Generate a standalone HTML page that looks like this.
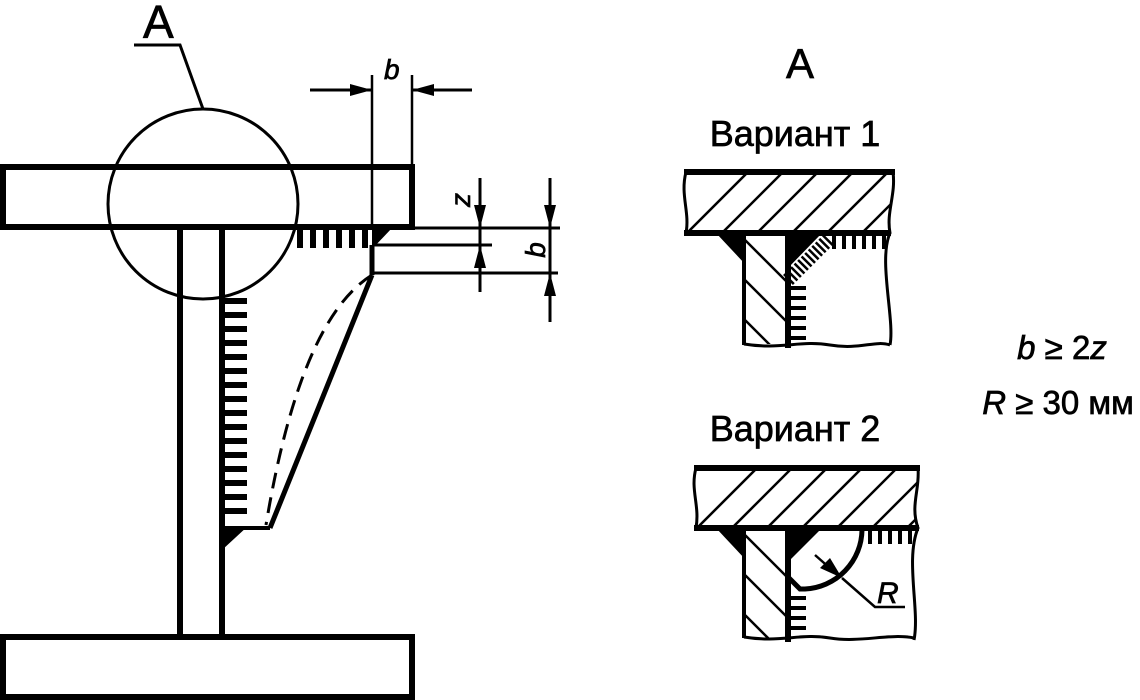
<!DOCTYPE html>
<html><head><meta charset="utf-8"><style>
html,body{margin:0;padding:0;background:#fff}
svg{display:block}
text{font-family:"Liberation Sans",sans-serif;fill:#000;stroke:#000;stroke-width:0.7}
</style></head><body>
<svg width="1140" height="700" viewBox="0 0 1140 700" xmlns="http://www.w3.org/2000/svg">
<defs>
<clipPath id="c1"><path d="M686,172 L893,172 C896,195 886,212 890,233 L686,233 C680,212 690,195 686,172 Z"/></clipPath>
<clipPath id="c2"><path d="M696,468 L918,468 C920,490 910,505 918,528 L696,528 C690,505 700,490 696,468 Z"/></clipPath>
<clipPath id="w1"><rect x="746" y="236" width="40" height="108"/></clipPath>
<clipPath id="w2"><rect x="746" y="531" width="40" height="108"/></clipPath>
</defs>
<g stroke="#000" fill="none">
<rect x="3" y="167" width="409" height="60" stroke-width="6"/>
<rect x="3" y="637" width="409" height="60" stroke-width="6"/>
<line x1="180" y1="230" x2="180" y2="637" stroke-width="6"/>
<line x1="222" y1="230" x2="222" y2="637" stroke-width="6"/>
<circle cx="203" cy="204" r="95" stroke-width="3"/>
<polyline points="203,109 180,45 134,45" stroke-width="3"/>
<line x1="372" y1="75" x2="372" y2="227" stroke-width="2.5"/>
<line x1="412" y1="75" x2="412" y2="167" stroke-width="2.5"/>
<line x1="310" y1="90" x2="372" y2="90" stroke-width="3"/>
<line x1="412" y1="90" x2="472" y2="90" stroke-width="3"/>
<line x1="372" y1="245" x2="372" y2="275" stroke-width="5"/>
<line x1="372" y1="275" x2="270" y2="528" stroke-width="5"/>
<line x1="222" y1="528" x2="270" y2="528" stroke-width="4"/>
<path d="M372,275 Q300,320 266,525" stroke-width="3" stroke-dasharray="16,9"/>
<line x1="374" y1="245" x2="492" y2="245" stroke-width="3"/>
<line x1="374" y1="273" x2="558" y2="273" stroke-width="3"/>
<line x1="412" y1="228" x2="560" y2="228" stroke-width="3"/>
<line x1="480" y1="178" x2="480" y2="292" stroke-width="3"/>
<line x1="550" y1="178" x2="550" y2="322" stroke-width="3"/>
</g>
<g fill="#000">
<polygon points="372,90 350,84 350,96"/>
<polygon points="412,90 434,84 434,96"/>
<polygon points="480,228 474,205 486,205"/>
<polygon points="480,245 474,268 486,268"/>
<polygon points="550,228 544,205 556,205"/>
<polygon points="550,273 544,296 556,296"/>
<polygon points="372,228 392,228 374,247 372,247"/>
<polygon points="222,526 248,526 222,550"/>
</g>
<g fill="#000">
<rect x="297" y="228" width="6" height="20"/><rect x="310" y="228" width="6" height="20"/><rect x="323" y="228" width="6" height="20"/><rect x="336" y="228" width="6" height="20"/><rect x="349" y="228" width="6" height="20"/><rect x="362" y="228" width="6" height="20"/>
</g>
<g fill="#000">
<rect x="222" y="298" width="25" height="6"/><rect x="222" y="312" width="25" height="6"/><rect x="222" y="326" width="25" height="6"/><rect x="222" y="340" width="25" height="6"/><rect x="222" y="354" width="25" height="6"/><rect x="222" y="368" width="25" height="6"/><rect x="222" y="382" width="25" height="6"/><rect x="222" y="396" width="25" height="6"/><rect x="222" y="410" width="25" height="6"/><rect x="222" y="424" width="25" height="6"/><rect x="222" y="438" width="25" height="6"/><rect x="222" y="452" width="25" height="6"/><rect x="222" y="466" width="25" height="6"/><rect x="222" y="480" width="25" height="6"/><rect x="222" y="494" width="25" height="6"/><rect x="222" y="508" width="25" height="6"/>
</g>
<text x="143" y="38" font-size="46">A</text>
<text x="384" y="79" font-size="28" font-style="italic">b</text>
<text transform="translate(470,200) rotate(-90)" font-size="28" font-style="italic" text-anchor="middle">z</text>
<text transform="translate(545,250) rotate(-90)" font-size="28" font-style="italic" text-anchor="middle">b</text>

<g clip-path="url(#c1)" stroke="#000" stroke-width="2.5">
<line x1="640" y1="280" x2="760" y2="160"/><line x1="675" y1="280" x2="795" y2="160"/><line x1="710" y1="280" x2="830" y2="160"/><line x1="745" y1="280" x2="865" y2="160"/><line x1="780" y1="280" x2="900" y2="160"/><line x1="815" y1="280" x2="935" y2="160"/><line x1="850" y1="280" x2="970" y2="160"/>
</g>
<g stroke="#000" fill="none">
<path d="M686,172 C680,195 690,212 686,233" stroke-width="3"/>
<path d="M893,172 C896,195 886,212 890,233 C878,260 895,320 890,345" stroke-width="3"/>
<line x1="684" y1="172" x2="895" y2="172" stroke-width="6"/>
<line x1="684" y1="233" x2="891" y2="233" stroke-width="6"/>
<line x1="744" y1="233" x2="744" y2="345" stroke-width="4"/>
<line x1="788" y1="233" x2="788" y2="348" stroke-width="6"/>
<path d="M744,344 C780,350 800,340 830,345 C860,350 875,340 890,345" stroke-width="3"/>
<g clip-path="url(#w1)" stroke-width="2.5"><line x1="730" y1="225" x2="820" y2="315"/><line x1="730" y1="265" x2="820" y2="355"/><line x1="730" y1="305" x2="820" y2="395"/></g>
<line x1="788" y1="280" x2="830" y2="238" stroke-width="14" stroke-dasharray="2.5,2.5"/>
<line x1="832" y1="241" x2="886" y2="241" stroke-width="16" stroke-dasharray="4,6"/>
<line x1="797" y1="286" x2="797" y2="340" stroke-width="18" stroke-dasharray="4,6"/>
</g>
<g fill="#000">
<polygon points="716,233 745,233 745,264"/>
<polygon points="788,233 822,233 788,268"/>
</g>

<g clip-path="url(#c2)" stroke="#000" stroke-width="2.5">
<line x1="650" y1="575" x2="770" y2="455"/><line x1="685" y1="575" x2="805" y2="455"/><line x1="720" y1="575" x2="840" y2="455"/><line x1="755" y1="575" x2="875" y2="455"/><line x1="790" y1="575" x2="910" y2="455"/><line x1="825" y1="575" x2="945" y2="455"/><line x1="860" y1="575" x2="980" y2="455"/>
</g>
<g stroke="#000" fill="none">
<path d="M696,468 C690,490 700,505 696,528" stroke-width="3"/>
<path d="M918,468 C920,490 910,505 918,528 C905,560 920,610 914,640" stroke-width="3"/>
<line x1="694" y1="468" x2="920" y2="468" stroke-width="6"/>
<line x1="694" y1="528" x2="919" y2="528" stroke-width="6"/>
<line x1="744" y1="528" x2="744" y2="638" stroke-width="4"/>
<line x1="788" y1="528" x2="788" y2="642" stroke-width="6"/>
<path d="M744,637 C780,643 800,633 830,638 C860,643 890,633 914,638" stroke-width="3"/>
<g clip-path="url(#w2)" stroke-width="2.5"><line x1="730" y1="520" x2="820" y2="610"/><line x1="730" y1="560" x2="820" y2="650"/><line x1="730" y1="600" x2="820" y2="690"/></g>
<path d="M862,530 A60,60 0 0 1 805,589 L800,589 L789,578" stroke-width="5"/>
<polyline points="842,578 875,607 905,607" stroke-width="2.5"/>
<line x1="815" y1="555" x2="832" y2="570" stroke-width="2.5"/>
<line x1="868" y1="536" x2="912" y2="536" stroke-width="16" stroke-dasharray="4,6"/>
<line x1="797" y1="596" x2="797" y2="632" stroke-width="18" stroke-dasharray="4,6"/>
</g>
<g fill="#000">
<polygon points="716,528 745,528 745,559"/>
<polygon points="788,528 822,528 788,562"/>
<polygon points="842,578 820,568 830,558"/>
</g>
<text x="877" y="603" font-size="30" font-style="italic">R</text>

<text x="800" y="78" font-size="42" text-anchor="middle">A</text>
<text x="795" y="146" font-size="36" text-anchor="middle">Вариант 1</text>
<text x="795" y="441" font-size="36" text-anchor="middle">Вариант 2</text>
<text x="1062" y="359" font-size="33" text-anchor="middle" stroke-width="1.2"><tspan font-style="italic">b</tspan> ≥ 2<tspan font-style="italic">z</tspan></text>
<text x="1058" y="414" font-size="33" text-anchor="middle" stroke-width="1.2"><tspan font-style="italic">R</tspan> ≥ 30 мм</text>
</svg>
</body></html>
